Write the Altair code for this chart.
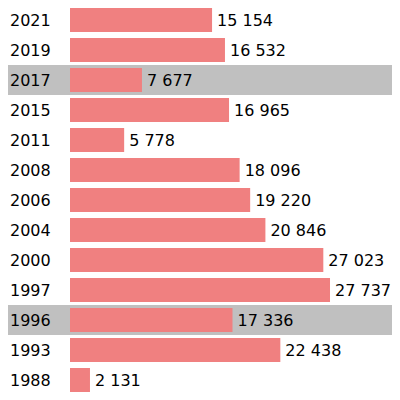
import altair as alt
import pandas as pd

years = ["2021", "2019", "2017", "2015", "2011", "2008", "2006", "2004", "2000", "1997", "1996", "1993", "1988"]
values = [15154, 16532, 7677, 16965, 5778, 18096, 19220, 20846, 27023, 27737, 17336, 22438, 2131]
highlight = ["2017", "1996"]

df = pd.DataFrame({"year": years, "value": values})
df["label"] = df["value"].map(lambda v: f"{v:,}".replace(",", " "))
df["hl"] = df["year"].isin(highlight)

y = alt.Y("year:N", sort=years, axis=None,
          scale=alt.Scale(range=[-3, 387], paddingInner=0, paddingOuter=0))
xs = alt.Scale(domain=[-6614, 34350], nice=False, zero=False)

base = alt.Chart(df)

bands = base.transform_filter("datum.hl").mark_rect(color="#c0c0c0").encode(
    y=y, x=alt.value(0), x2=alt.value(384)
)

bars = base.mark_bar(color="#f08080", height=24).encode(
    y=y,
    x=alt.X("value:Q", scale=xs, axis=None),
    x2=alt.datum(0),
)

vlabels = base.mark_text(align="left", baseline="middle", dx=5, dy=1, fontSize=16,
                         font="DejaVu Sans", color="black").encode(
    y=y, x=alt.X("value:Q", scale=xs, axis=None), text="label:N"
)

ylabels = base.mark_text(align="left", baseline="middle", dy=1, fontSize=16,
                         font="DejaVu Sans", color="black").encode(
    y=y, x=alt.value(2), text="year:N"
)

chart = alt.layer(bands, bars, vlabels, ylabels).properties(
    width=384, height=384
).configure_view(stroke=None).properties(padding=0)

chart.save("out.html", embed_options={"renderer": "svg", "actions": False})
